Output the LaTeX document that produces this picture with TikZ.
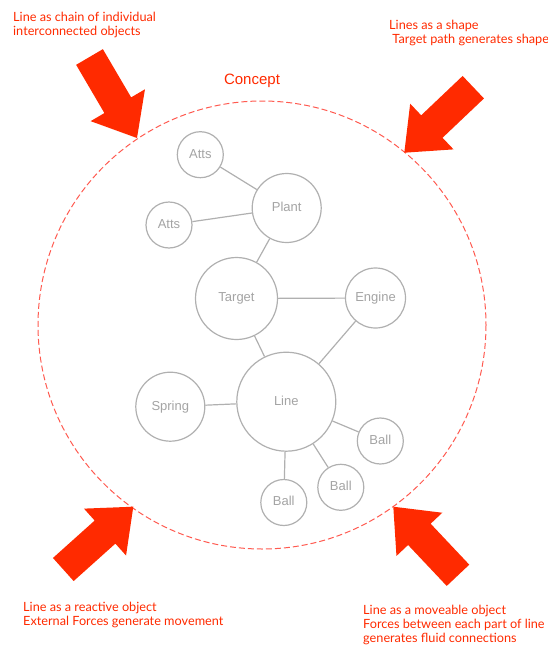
\documentclass[tikz,border=0pt]{standalone}
\usepackage{fontspec}
\setmainfont{Liberation Sans}
\newfontfamily\notefont{Lato}
\usetikzlibrary{calc}

\definecolor{accent}{HTML}{FF2A00}
\definecolor{ringred}{HTML}{FF5A50}
\definecolor{nodegray}{HTML}{B0B0B0}
\definecolor{labelgray}{HTML}{A4A4A4}

\tikzset{
  bubble/.style={circle, draw=nodegray, line width=1.2pt, fill=white,
    text=labelgray, font=\fontsize{13}{15}\selectfont, inner sep=0pt,
    text height=9.5pt, text depth=2.8pt},
  link/.style={draw=nodegray, line width=1.2pt},
  note/.style={text=accent, font=\notefont\fontsize{12.7}{14}\selectfont,
    align=left, anchor=north west, inner sep=0pt},
}

% block arrow from tail centre #2 to tip #1
\newcommand\redarrow[2]{%
  \fill[accent] (#1)
    -- ($(#1)!38pt!(#2)!31.5pt!90:(#1)$)
    -- ($(#1)!38pt!(#2)!15.5pt!90:(#1)$)
    -- ($(#2)!15.5pt!90:(#1)$)
    -- ($(#2)!15.5pt!-90:(#1)$)
    -- ($(#1)!38pt!(#2)!15.5pt!-90:(#1)$)
    -- ($(#1)!38pt!(#2)!31.5pt!-90:(#1)$)
    -- cycle;}

\begin{document}
\begin{tikzpicture}[x=1pt,y=-1pt]
\useasboundingbox (0,0) rectangle (548,645);

% dashed boundary of the concept
\draw[ringred, line width=1pt, dash pattern=on 6pt off 3pt] (262,325) circle[radius=224];
\node[text=accent, font=\fontsize{15}{18}\selectfont, anchor=base] (title) at (252,84) {Concept};

% concept bubbles
\node[bubble, minimum size=46pt] (atts1) at (200.3,154.7) {Atts};
\node[bubble, minimum size=46pt] (atts2) at (169,225) {Atts};
\node[bubble, minimum size=69pt] (plant) at (286.7,208) {Plant};
\node[bubble, minimum size=82pt] (target) at (236.5,298.5) {Target};
\node[bubble, minimum size=60pt] (engine) at (375.5,298) {Engine};
\node[bubble, minimum size=99pt] (line) at (286.3,401.7) {Line};
\node[bubble, minimum size=69pt] (spring) at (170.3,406.7) {Spring};
\node[bubble, minimum size=46pt] (ball1) at (380.3,441) {Ball};
\node[bubble, minimum size=46pt] (ball2) at (340.8,487.3) {Ball};
\node[bubble, minimum size=46pt] (ball3) at (283.8,502.5) {Ball};

\draw[link] (atts1) -- (plant);
\draw[link] (atts2) -- (plant);
\draw[link] (plant) -- (target);
\draw[link] (target) -- (engine);
\draw[link] (target) -- (line);
\draw[link] (engine) -- (line);
\draw[link] (spring) -- (line);
\draw[link] (line) -- (ball1);
\draw[link] (line) -- (ball2);
\draw[link] (line) -- (ball3);

% arrows pointing at the boundary
\coordinate (tipA) at (137,138);     \coordinate (tailA) at (89.5,57);
\coordinate (tipB) at (404.3,152.7); \coordinate (tailB) at (473.3,87.2);
\coordinate (tipC) at (133.3,506.7); \coordinate (tailC) at (63.3,569.5);
\coordinate (tipD) at (393.3,506.7); \coordinate (tailD) at (458,575.3);
\redarrow{tipA}{tailA}
\redarrow{tipB}{tailB}
\redarrow{tipC}{tailC}
\redarrow{tipD}{tailD}

% notes
\node[note] (noteA) at (13,11.5) {Line as chain of individual\\interconnected objects};
\node[note] (noteB) at (389,19.5) {Lines as a shape\\\ Target path generates shape};
\node[note] (noteC) at (23,601.5) {Line as a reactive object\\External Forces generate movement};
\node[note] (noteD) at (363,604.5) {Line as a moveable object\\Forces between each part of line\\generates fluid connections};
\end{tikzpicture}
\end{document}
